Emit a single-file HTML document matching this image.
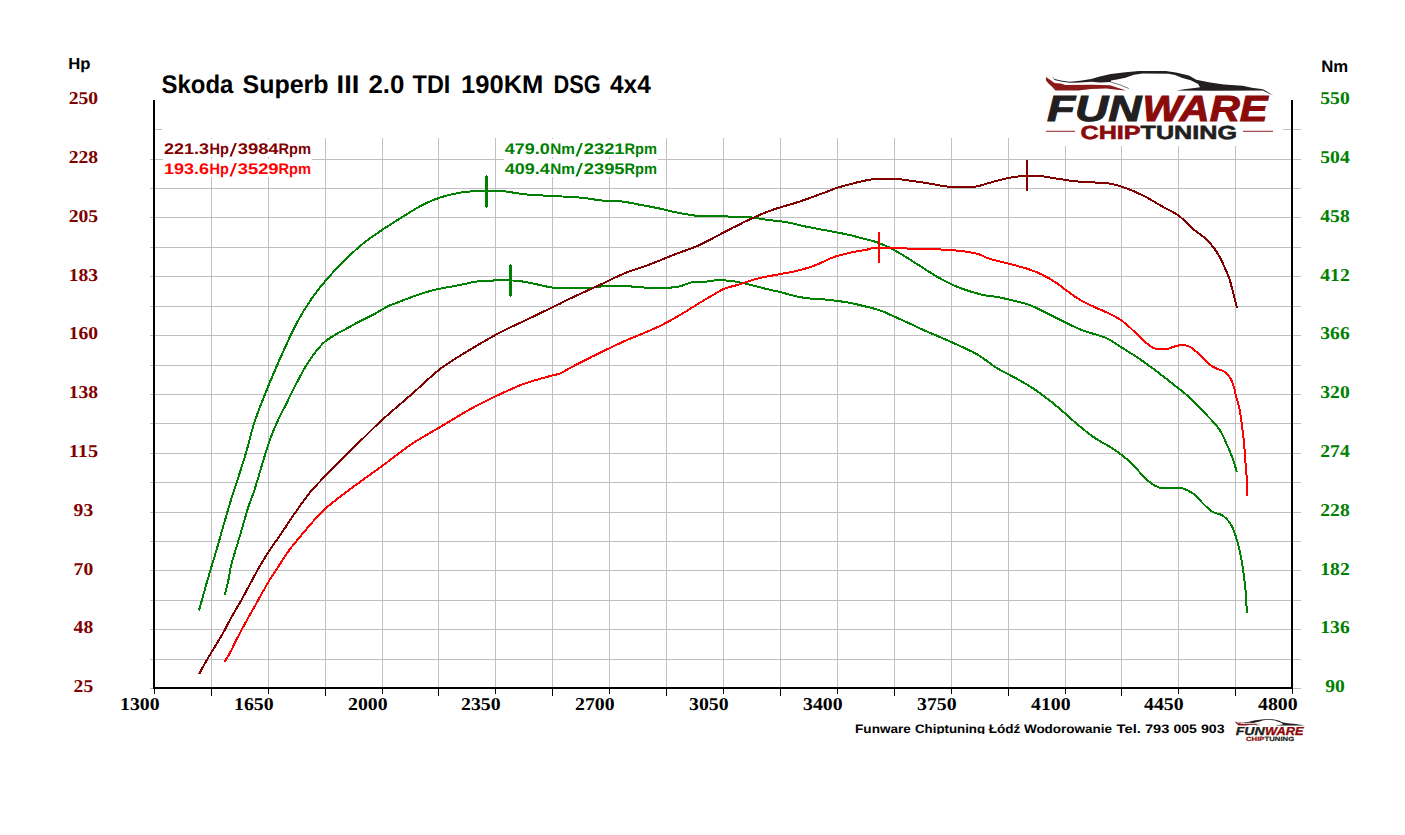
<!DOCTYPE html>
<html><head><meta charset="utf-8"><title>Dyno chart</title>
<style>
html,body{margin:0;padding:0;background:#fff}
body{width:1405px;height:835px;overflow:hidden;position:relative;font-family:"Liberation Sans",sans-serif}
svg{position:absolute;left:0;top:0;display:block}
text{text-rendering:geometricPrecision}
.ser{font-family:"Liberation Serif",serif;font-weight:bold}
.san{font-family:"Liberation Sans",sans-serif;font-weight:bold}
</style></head>
<body>
<svg width="1405" height="835" viewBox="0 0 1405 835">
<rect x="0" y="0" width="1405" height="835" fill="#ffffff"/>
<g fill="#c0c0c0" shape-rendering="crispEdges">
<rect x="211" y="138" width="1" height="549"/>
<rect x="268" y="138" width="1" height="549"/>
<rect x="325" y="138" width="1" height="549"/>
<rect x="382" y="138" width="1" height="549"/>
<rect x="438" y="138" width="1" height="549"/>
<rect x="495" y="138" width="1" height="549"/>
<rect x="552" y="138" width="1" height="549"/>
<rect x="609" y="138" width="1" height="549"/>
<rect x="666" y="138" width="1" height="549"/>
<rect x="723" y="138" width="1" height="549"/>
<rect x="780" y="138" width="1" height="549"/>
<rect x="837" y="138" width="1" height="549"/>
<rect x="894" y="138" width="1" height="549"/>
<rect x="951" y="138" width="1" height="549"/>
<rect x="1008" y="138" width="1" height="549"/>
<rect x="1065" y="138" width="1" height="549"/>
<rect x="1121" y="138" width="1" height="549"/>
<rect x="1178" y="138" width="1" height="549"/>
<rect x="1235" y="138" width="1" height="549"/>
<rect x="150" y="159" width="1151" height="1"/>
<rect x="150" y="188" width="1151" height="1"/>
<rect x="150" y="217" width="1151" height="1"/>
<rect x="150" y="247" width="1151" height="1"/>
<rect x="150" y="276" width="1151" height="1"/>
<rect x="150" y="306" width="1151" height="1"/>
<rect x="150" y="335" width="1151" height="1"/>
<rect x="150" y="365" width="1151" height="1"/>
<rect x="150" y="394" width="1151" height="1"/>
<rect x="150" y="423" width="1151" height="1"/>
<rect x="150" y="453" width="1151" height="1"/>
<rect x="150" y="482" width="1151" height="1"/>
<rect x="150" y="512" width="1151" height="1"/>
<rect x="150" y="541" width="1151" height="1"/>
<rect x="150" y="570" width="1151" height="1"/>
<rect x="150" y="600" width="1151" height="1"/>
<rect x="150" y="629" width="1151" height="1"/>
<rect x="150" y="659" width="1151" height="1"/>
<rect x="155" y="129" width="7" height="1"/>
<rect x="1283" y="129" width="18" height="1"/>
<rect x="150" y="688" width="3" height="1"/>
<rect x="1293" y="688" width="8" height="1"/>
</g>
<g fill="#ffffff" shape-rendering="crispEdges">
<rect x="163" y="139" width="149" height="18"/>
<rect x="163" y="159" width="149" height="18"/>
<rect x="504" y="139" width="154" height="18"/>
<rect x="504" y="159" width="154" height="18"/>
</g>
<g fill="#000000" shape-rendering="crispEdges">
<rect x="153" y="100" width="2" height="589"/>
<rect x="1291" y="100" width="2" height="589"/>
<rect x="153" y="687" width="1140" height="2"/>
<rect x="154" y="689" width="1" height="5"/>
<rect x="211" y="689" width="1" height="7"/>
<rect x="268" y="689" width="1" height="5"/>
<rect x="325" y="689" width="1" height="7"/>
<rect x="382" y="689" width="1" height="5"/>
<rect x="438" y="689" width="1" height="7"/>
<rect x="495" y="689" width="1" height="5"/>
<rect x="552" y="689" width="1" height="7"/>
<rect x="609" y="689" width="1" height="5"/>
<rect x="666" y="689" width="1" height="7"/>
<rect x="723" y="689" width="1" height="5"/>
<rect x="780" y="689" width="1" height="7"/>
<rect x="837" y="689" width="1" height="5"/>
<rect x="894" y="689" width="1" height="7"/>
<rect x="951" y="689" width="1" height="5"/>
<rect x="1008" y="689" width="1" height="7"/>
<rect x="1065" y="689" width="1" height="5"/>
<rect x="1121" y="689" width="1" height="7"/>
<rect x="1178" y="689" width="1" height="5"/>
<rect x="1235" y="689" width="1" height="7"/>
<rect x="1292" y="689" width="1" height="5"/>
</g>
<polyline points="199.0,610.5 199.3,609.4 200.1,606.6 201.2,602.6 202.5,598.0 203.7,593.5 204.8,589.7 205.6,586.7 206.4,583.9 207.2,581.0 208.1,578.2 208.9,575.3 209.8,572.2 211.0,568.3 212.2,564.2 213.5,560.1 214.8,555.8 216.0,551.5 217.3,547.3 218.6,543.0 219.8,538.5 221.0,534.1 222.3,529.7 223.5,525.4 224.7,521.2 225.8,517.5 226.8,513.9 227.9,510.4 228.9,506.9 229.9,503.4 231.0,500.0 232.0,496.8 233.0,493.6 234.0,490.5 235.1,487.3 236.1,484.1 237.2,480.7 238.6,476.4 240.0,472.0 241.5,467.4 243.0,462.7 244.5,458.0 245.9,453.3 247.3,448.4 248.6,443.4 249.9,438.4 251.2,433.4 252.6,428.4 254.1,423.4 255.8,418.4 257.6,413.4 259.4,408.4 261.4,403.4 263.3,398.6 265.1,393.9 266.7,389.9 268.3,386.1 269.8,382.3 271.4,378.6 273.0,374.8 274.6,371.1 276.2,367.3 277.9,363.5 279.5,359.7 281.2,356.0 282.9,352.3 284.5,348.7 286.0,345.4 287.5,342.2 288.9,339.0 290.4,335.8 291.8,332.8 293.2,330.0 294.3,327.9 295.2,325.9 296.2,324.0 297.2,322.2 298.3,320.2 299.5,318.1 301.3,315.0 303.2,311.7 305.3,308.3 307.5,304.9 309.7,301.5 311.9,298.2 314.1,295.2 316.3,292.2 318.5,289.3 320.8,286.4 323.2,283.6 325.6,280.7 328.2,277.8 330.8,274.8 333.4,272.0 336.1,269.1 338.9,266.2 341.8,263.3 345.0,260.1 348.2,256.9 351.5,253.7 354.9,250.6 358.4,247.5 361.8,244.6 365.1,241.9 368.5,239.4 372.0,236.9 375.4,234.5 378.9,232.1 382.4,229.7 386.0,227.3 389.6,225.0 393.2,222.7 396.8,220.4 400.5,218.1 404.1,215.9 407.6,213.7 411.2,211.5 414.7,209.4 418.2,207.3 421.8,205.3 425.3,203.5 428.6,202.0 431.9,200.6 435.2,199.3 438.5,198.1 441.8,197.0 445.2,196.0 448.7,195.1 452.2,194.2 455.8,193.5 459.3,192.8 462.9,192.3 466.4,191.8 469.8,191.5 473.2,191.3 476.6,191.2 480.0,191.1 483.2,191.1 486.3,191.0 488.7,190.9 490.9,190.8 493.1,190.7 495.2,190.7 497.5,190.7 500.0,190.8 503.7,191.2 507.7,191.7 511.9,192.4 516.2,193.1 520.6,193.8 524.9,194.3 529.4,194.7 533.9,195.0 538.4,195.3 543.0,195.5 547.6,195.7 552.3,196.0 557.3,196.3 562.3,196.5 567.4,196.8 572.5,197.1 577.5,197.4 582.2,197.8 586.2,198.2 590.0,198.8 593.8,199.4 597.5,199.9 601.1,200.4 604.6,200.8 607.6,201.0 610.6,201.1 613.5,201.1 616.4,201.2 619.2,201.3 622.1,201.5 625.0,201.9 627.9,202.4 630.7,202.9 633.6,203.5 636.5,204.1 639.5,204.7 642.7,205.3 646.0,205.9 649.4,206.5 652.7,207.2 656.1,207.8 659.4,208.5 662.7,209.2 666.1,210.0 669.4,210.8 672.7,211.6 676.1,212.3 679.4,213.0 682.7,213.6 685.9,214.2 689.2,214.7 692.5,215.2 695.8,215.7 699.3,216.0 703.3,216.2 707.4,216.3 711.6,216.4 715.8,216.4 720.0,216.3 724.2,216.4 728.4,216.5 732.7,216.5 736.9,216.6 741.1,216.7 745.2,216.9 749.1,217.2 752.2,217.5 755.1,217.9 758.0,218.4 760.8,218.8 763.7,219.3 766.6,219.7 769.8,220.1 773.1,220.5 776.5,220.8 779.8,221.2 783.2,221.7 786.5,222.2 789.8,222.8 793.1,223.6 796.4,224.4 799.7,225.2 803.0,226.0 806.4,226.7 810.1,227.4 813.8,228.1 817.6,228.8 821.3,229.5 825.1,230.2 828.8,230.9 832.4,231.6 836.1,232.3 839.8,233.0 843.4,233.7 846.8,234.4 850.0,235.1 852.3,235.6 854.4,236.2 856.5,236.8 858.5,237.3 860.5,237.9 862.5,238.4 864.6,238.9 866.6,239.4 868.7,239.9 870.8,240.4 872.8,241.0 874.9,241.6 877.0,242.3 879.1,243.1 881.2,243.9 883.3,244.8 885.3,245.7 887.4,246.6 889.5,247.6 891.5,248.6 893.5,249.7 895.5,250.8 897.6,252.0 899.8,253.3 902.9,255.1 906.1,257.1 909.5,259.3 913.0,261.5 916.4,263.7 919.8,265.8 923.1,267.9 926.5,270.1 929.9,272.2 933.2,274.4 936.5,276.4 939.7,278.2 942.3,279.6 944.8,281.0 947.2,282.2 949.7,283.4 952.1,284.6 954.6,285.7 957.1,286.7 959.6,287.7 962.1,288.7 964.6,289.5 967.1,290.4 969.6,291.2 972.1,292.0 974.5,292.7 977.0,293.4 979.5,294.1 982.0,294.7 984.5,295.2 987.0,295.7 989.5,296.0 992.0,296.3 994.5,296.6 997.0,297.0 999.5,297.4 1002.0,297.9 1004.5,298.5 1007.0,299.0 1009.4,299.7 1011.9,300.3 1014.4,300.9 1016.9,301.5 1019.4,302.1 1021.9,302.7 1024.4,303.3 1026.9,304.1 1029.4,304.9 1031.9,305.9 1034.4,307.0 1036.8,308.2 1039.3,309.4 1041.8,310.6 1044.3,311.9 1047.1,313.3 1050.0,314.7 1052.9,316.2 1055.8,317.6 1058.8,319.1 1061.8,320.6 1065.0,322.2 1068.2,323.8 1071.5,325.4 1074.8,327.0 1078.2,328.5 1081.7,330.0 1085.7,331.5 1090.0,332.8 1094.4,334.0 1098.7,335.3 1102.8,336.7 1106.6,338.2 1109.4,339.6 1111.9,341.1 1114.3,342.6 1116.7,344.2 1119.1,345.8 1121.6,347.4 1124.4,349.2 1127.3,351.0 1130.2,352.9 1133.2,354.7 1136.1,356.7 1139.0,358.6 1141.9,360.6 1144.8,362.6 1147.7,364.7 1150.6,366.8 1153.5,368.9 1156.4,371.1 1159.4,373.4 1162.4,375.7 1165.4,378.0 1168.3,380.4 1171.2,382.6 1173.9,384.8 1176.1,386.5 1178.2,388.1 1180.2,389.7 1182.2,391.3 1184.3,392.9 1186.3,394.7 1188.6,396.9 1191.0,399.2 1193.4,401.6 1195.7,404.0 1198.0,406.3 1200.0,408.4 1201.4,409.8 1202.6,411.0 1203.8,412.1 1205.0,413.3 1206.2,414.5 1207.5,415.9 1209.3,417.8 1211.3,419.8 1213.3,422.0 1215.3,424.2 1217.2,426.5 1219.0,428.9 1220.7,431.6 1222.2,434.4 1223.7,437.4 1225.0,440.3 1226.3,443.3 1227.6,446.1 1228.7,448.6 1229.7,451.0 1230.7,453.4 1231.7,455.8 1232.6,458.2 1233.4,460.5 1234.1,462.7 1234.9,465.3 1235.6,467.8 1236.2,469.9 1236.6,471.4 1236.8,472.0" fill="none" stroke="#008000" stroke-width="2" stroke-linejoin="round" shape-rendering="crispEdges"/>
<polyline points="224.8,595.0 225.0,594.2 225.5,592.1 226.3,589.2 227.1,585.9 227.9,582.6 228.5,579.7 228.9,577.4 229.3,575.2 229.7,573.0 230.0,570.7 230.5,568.4 231.0,566.0 231.8,562.7 232.8,559.3 233.9,555.7 235.0,552.0 236.1,548.4 237.2,544.8 238.2,541.2 239.3,537.6 240.4,534.1 241.4,530.5 242.4,527.0 243.4,523.7 244.2,521.0 244.9,518.3 245.7,515.8 246.4,513.2 247.2,510.7 248.0,508.0 249.0,505.0 250.1,502.0 251.2,499.0 252.3,495.9 253.5,492.7 254.6,489.4 255.9,485.5 257.1,481.3 258.4,477.1 259.6,472.8 260.9,468.6 262.1,464.5 263.3,460.7 264.4,456.9 265.5,453.1 266.7,449.4 267.9,445.7 269.1,442.1 270.3,438.7 271.6,435.3 272.9,432.0 274.3,428.7 275.7,425.4 277.1,422.2 278.5,419.2 279.9,416.3 281.3,413.5 282.8,410.6 284.3,407.7 285.8,404.7 287.6,401.1 289.4,397.4 291.3,393.6 293.2,389.8 295.1,386.0 297.0,382.3 298.8,378.9 300.6,375.5 302.4,372.2 304.2,368.9 306.1,365.6 308.2,362.4 310.5,359.0 312.9,355.6 315.4,352.2 318.0,348.9 320.5,346.0 323.0,343.4 324.7,341.8 326.4,340.5 328.0,339.3 329.7,338.2 331.3,337.1 333.1,336.0 335.0,334.9 336.9,333.8 338.8,332.7 340.8,331.7 342.8,330.6 344.9,329.5 347.2,328.2 349.6,326.9 352.0,325.6 354.4,324.2 356.9,322.9 359.3,321.6 361.7,320.4 364.1,319.2 366.5,318.0 368.9,316.8 371.3,315.6 373.7,314.4 376.1,313.1 378.5,311.6 381.0,310.2 383.3,308.8 385.7,307.5 388.0,306.3 389.9,305.4 391.7,304.7 393.4,304.0 395.2,303.4 397.1,302.7 399.1,301.9 402.1,300.7 405.5,299.4 409.0,298.1 412.6,296.7 416.0,295.5 419.1,294.4 421.4,293.7 423.6,293.0 425.7,292.3 427.7,291.7 429.6,291.2 431.5,290.7 432.8,290.4 434.0,290.0 435.1,289.8 436.3,289.5 437.6,289.2 439.0,288.9 441.8,288.3 444.9,287.7 448.3,287.1 451.9,286.5 455.5,285.8 458.9,285.2 462.2,284.5 465.5,283.8 468.9,283.0 472.2,282.3 475.5,281.7 478.9,281.2 482.5,280.9 486.1,280.7 489.9,280.5 493.5,280.5 496.9,280.4 500.0,280.4 502.0,280.4 503.7,280.3 505.4,280.3 507.1,280.3 508.8,280.3 510.5,280.4 512.4,280.5 514.3,280.6 516.3,280.8 518.2,281.0 520.3,281.2 522.4,281.5 525.2,282.0 528.1,282.5 531.1,283.1 534.1,283.8 537.1,284.4 539.9,285.0 542.2,285.5 544.3,286.0 546.4,286.5 548.6,287.0 550.9,287.4 553.6,287.7 559.1,288.1 565.8,288.2 573.0,288.3 580.2,288.2 586.8,288.0 592.2,287.7 594.6,287.5 596.7,287.2 598.6,286.9 600.4,286.6 602.4,286.4 604.6,286.2 608.5,286.0 613.0,285.9 617.7,285.9 622.3,285.9 626.4,286.0 629.5,286.2 630.5,286.3 631.3,286.4 631.9,286.6 632.6,286.7 633.4,286.9 634.5,287.0 639.4,287.3 646.3,287.6 654.4,287.8 662.8,287.8 670.5,287.6 676.9,287.0 680.1,286.3 682.9,285.4 685.6,284.4 688.1,283.5 690.6,282.6 693.1,282.0 695.5,281.7 698.0,281.6 700.4,281.6 702.8,281.6 704.9,281.6 706.8,281.5 707.7,281.4 708.5,281.2 709.3,281.1 710.0,280.9 710.8,280.8 711.8,280.7 714.1,280.5 716.8,280.4 719.8,280.4 722.9,280.4 726.1,280.5 729.2,280.7 732.5,281.1 735.8,281.6 739.2,282.3 742.5,283.0 745.9,283.8 749.1,284.5 752.1,285.2 755.1,286.0 758.0,286.7 760.9,287.5 763.8,288.3 766.6,289.0 769.1,289.6 771.7,290.2 774.1,290.7 776.6,291.3 779.0,291.8 781.5,292.4 784.0,293.1 786.5,293.8 789.0,294.5 791.5,295.2 794.0,295.8 796.5,296.4 799.0,296.9 801.5,297.3 804.0,297.8 806.5,298.1 809.0,298.4 811.4,298.7 813.5,298.9 815.5,299.0 817.4,299.0 819.4,299.1 821.6,299.2 823.9,299.4 827.8,299.8 832.2,300.3 836.8,300.9 841.5,301.5 846.0,302.2 850.0,302.9 852.8,303.4 855.3,304.0 857.8,304.6 860.2,305.2 862.6,305.8 865.0,306.4 867.5,307.0 870.0,307.6 872.5,308.2 875.0,308.9 877.4,309.6 879.9,310.4 882.4,311.3 884.9,312.3 887.4,313.4 889.8,314.6 892.3,315.7 894.8,316.8 897.3,317.9 899.8,319.0 902.3,320.2 904.8,321.3 907.3,322.5 909.8,323.6 912.2,324.7 914.6,325.8 917.0,326.9 919.4,328.1 922.0,329.3 924.7,330.5 928.8,332.3 933.3,334.2 938.0,336.2 942.8,338.3 947.5,340.3 952.1,342.4 956.4,344.3 960.7,346.3 964.9,348.2 969.1,350.2 973.2,352.2 977.1,354.4 980.7,356.6 984.1,359.0 987.5,361.4 990.8,363.9 994.0,366.1 997.0,368.1 999.2,369.4 1001.2,370.5 1003.2,371.5 1005.1,372.6 1007.2,373.6 1009.4,374.8 1012.5,376.5 1015.9,378.3 1019.4,380.2 1022.9,382.2 1026.3,384.1 1029.4,386.0 1031.9,387.6 1034.2,389.1 1036.4,390.6 1038.6,392.2 1040.8,393.8 1043.1,395.5 1045.7,397.5 1048.4,399.5 1051.1,401.6 1053.8,403.8 1056.5,406.1 1059.3,408.4 1062.5,411.2 1065.9,414.1 1069.2,417.2 1072.6,420.2 1076.0,423.2 1079.2,425.9 1081.9,428.1 1084.6,430.3 1087.3,432.4 1089.9,434.4 1092.6,436.4 1095.4,438.3 1098.4,440.2 1101.5,442.1 1104.7,443.9 1107.9,445.7 1111.0,447.5 1114.1,449.5 1117.1,451.6 1120.1,453.8 1123.0,456.0 1125.9,458.4 1128.8,460.7 1131.5,463.2 1134.1,465.8 1136.6,468.7 1139.1,471.6 1141.5,474.4 1144.0,477.1 1146.5,479.4 1148.7,481.2 1150.8,482.9 1153.0,484.4 1155.2,485.8 1157.6,486.9 1160.1,487.8 1163.2,488.3 1166.6,488.3 1170.2,488.0 1173.7,487.6 1177.1,487.5 1180.2,487.8 1182.6,488.4 1184.8,489.2 1187.0,490.1 1189.1,491.1 1191.1,492.3 1193.1,493.6 1195.2,495.2 1197.2,497.1 1199.1,499.2 1200.9,501.3 1202.8,503.3 1204.6,505.1 1206.1,506.5 1207.5,507.8 1208.9,509.1 1210.4,510.3 1211.8,511.4 1213.3,512.3 1214.7,512.9 1216.2,513.3 1217.6,513.6 1219.1,514.0 1220.5,514.4 1221.9,515.1 1223.5,516.2 1225.0,517.4 1226.5,518.8 1227.9,520.4 1229.3,522.1 1230.5,523.8 1231.7,525.9 1232.8,528.1 1233.8,530.5 1234.6,533.0 1235.5,535.6 1236.3,538.1 1237.1,540.9 1237.9,543.7 1238.7,546.6 1239.4,549.6 1240.0,552.5 1240.6,555.4 1241.2,558.3 1241.7,561.1 1242.1,564.0 1242.6,566.9 1243.0,569.7 1243.4,572.6 1243.8,575.4 1244.2,578.3 1244.5,581.1 1244.9,583.9 1245.2,586.9 1245.5,589.9 1245.8,594.1 1246.2,599.0 1246.4,604.1 1246.7,608.5 1246.8,611.7 1246.9,612.9" fill="none" stroke="#008000" stroke-width="2" stroke-linejoin="round" shape-rendering="crispEdges"/>
<polyline points="199.3,674.0 199.5,673.6 200.1,672.5 200.8,670.9 201.8,669.2 202.7,667.3 203.6,665.7 204.5,664.0 205.5,662.3 206.5,660.6 207.5,658.9 208.6,657.0 209.8,655.0 211.6,652.0 213.7,648.6 215.8,645.1 218.0,641.5 220.2,638.0 222.2,634.5 224.0,631.3 225.7,628.1 227.3,625.0 229.0,621.8 230.6,618.8 232.2,615.8 233.7,613.2 235.2,610.7 236.6,608.2 238.1,605.8 239.5,603.3 240.9,600.9 242.2,598.6 243.4,596.3 244.7,594.1 245.9,591.8 247.1,589.5 248.4,587.2 249.8,584.6 251.2,581.9 252.6,579.2 254.1,576.5 255.6,573.8 257.1,571.0 258.8,567.9 260.6,564.9 262.5,561.7 264.4,558.6 266.3,555.4 268.3,552.3 270.5,549.0 272.7,545.7 275.1,542.3 277.4,539.0 279.7,535.7 282.0,532.4 284.1,529.3 286.2,526.2 288.2,523.1 290.2,520.0 292.3,516.8 294.5,513.7 296.9,510.3 299.4,506.7 301.9,503.2 304.4,499.7 306.9,496.3 309.4,493.2 311.5,490.7 313.5,488.4 315.5,486.2 317.5,484.1 319.7,481.8 321.9,479.5 324.8,476.5 327.8,473.5 330.9,470.4 334.1,467.2 337.4,464.0 340.6,460.8 344.1,457.3 347.6,453.8 351.1,450.2 354.7,446.7 358.3,443.1 361.8,439.6 365.2,436.3 368.5,433.0 371.8,429.7 375.2,426.4 378.7,423.1 382.4,419.7 387.0,415.6 391.8,411.4 396.7,407.1 401.7,402.8 406.7,398.5 411.6,394.3 416.3,390.1 421.1,385.7 425.9,381.3 430.5,377.1 434.9,373.3 439.0,369.9 441.5,368.0 443.7,366.4 445.9,364.9 448.0,363.4 450.3,362.0 452.7,360.4 455.9,358.3 459.3,356.2 462.8,354.0 466.5,351.8 470.2,349.6 473.9,347.4 478.1,344.9 482.4,342.4 486.8,339.8 491.2,337.3 495.6,334.8 500.0,332.5 504.1,330.4 508.3,328.4 512.4,326.4 516.5,324.5 520.7,322.6 524.9,320.6 529.4,318.4 534.0,316.2 538.7,314.0 543.3,311.7 547.9,309.5 552.3,307.4 556.2,305.5 559.9,303.7 563.6,301.8 567.2,300.0 570.9,298.2 574.7,296.4 578.8,294.5 582.9,292.6 587.1,290.7 591.3,288.8 595.5,286.9 599.7,285.0 603.9,283.0 608.0,281.0 612.1,279.0 616.3,277.0 620.4,275.1 624.6,273.3 628.7,271.7 632.9,270.2 637.0,268.8 641.2,267.4 645.4,266.0 649.5,264.5 653.7,262.9 657.8,261.3 662.0,259.6 666.1,257.9 670.2,256.2 674.4,254.6 678.6,253.0 682.7,251.5 686.9,250.0 691.0,248.5 695.2,246.9 699.3,245.1 703.5,243.1 707.6,241.0 711.8,238.8 715.9,236.6 720.1,234.4 724.2,232.2 728.4,230.1 732.5,227.9 736.7,225.8 740.9,223.7 745.0,221.6 749.1,219.7 752.9,218.0 756.5,216.3 760.2,214.7 763.9,213.2 767.6,211.7 771.5,210.2 775.9,208.7 780.4,207.3 785.1,205.9 789.8,204.6 794.4,203.2 798.9,201.8 803.2,200.3 807.6,198.8 811.9,197.2 816.1,195.7 820.1,194.2 823.9,192.8 826.6,191.8 829.2,190.8 831.7,189.8 834.1,188.9 836.5,188.1 838.8,187.3 840.7,186.7 842.6,186.2 844.4,185.7 846.3,185.2 848.1,184.8 850.0,184.3 852.0,183.8 854.1,183.2 856.1,182.6 858.2,182.1 860.3,181.6 862.5,181.1 864.9,180.6 867.3,180.2 869.8,179.7 872.3,179.4 874.8,179.0 877.4,178.8 880.2,178.6 883.1,178.5 886.1,178.5 889.0,178.6 892.0,178.7 894.8,178.8 897.3,179.0 899.8,179.2 902.2,179.5 904.7,179.9 907.2,180.2 909.8,180.6 913.0,181.0 916.2,181.5 919.6,182.0 923.0,182.5 926.3,183.1 929.7,183.6 933.0,184.2 936.3,184.8 939.6,185.4 942.9,186.0 946.2,186.4 949.7,186.8 953.8,187.1 958.0,187.3 962.4,187.4 966.7,187.4 970.8,187.2 974.6,186.8 977.3,186.3 979.8,185.7 982.2,185.0 984.5,184.3 986.9,183.5 989.5,182.8 992.7,182.0 996.0,181.0 999.4,180.1 1002.9,179.3 1006.2,178.5 1009.4,177.8 1012.0,177.3 1014.5,177.0 1017.0,176.6 1019.5,176.4 1021.9,176.2 1024.4,176.0 1026.9,175.9 1029.3,175.8 1031.8,175.7 1034.3,175.8 1036.8,175.8 1039.3,176.0 1042.1,176.3 1045.0,176.7 1048.0,177.1 1050.9,177.6 1053.9,178.1 1056.8,178.6 1059.7,179.0 1062.6,179.5 1065.6,179.9 1068.5,180.4 1071.4,180.8 1074.2,181.1 1076.7,181.4 1079.2,181.6 1081.7,181.8 1084.2,182.0 1086.6,182.1 1089.2,182.3 1092.0,182.4 1095.0,182.5 1097.9,182.5 1100.9,182.6 1103.8,182.8 1106.6,183.1 1109.1,183.5 1111.6,183.9 1114.0,184.5 1116.5,185.1 1119.0,185.8 1121.6,186.6 1125.1,187.8 1128.9,189.3 1132.8,190.8 1136.6,192.5 1140.4,194.3 1144.0,196.0 1147.1,197.6 1150.0,199.2 1152.9,200.9 1155.7,202.6 1158.5,204.3 1161.4,206.0 1164.3,207.6 1167.3,209.2 1170.3,210.7 1173.3,212.3 1176.2,214.0 1178.9,215.9 1181.4,217.9 1183.8,220.1 1186.1,222.3 1188.4,224.6 1190.7,226.9 1193.1,229.0 1195.5,231.0 1198.0,232.8 1200.5,234.7 1203.0,236.5 1205.3,238.5 1207.5,240.5 1209.4,242.5 1211.2,244.6 1212.9,246.7 1214.6,248.9 1216.1,251.1 1217.6,253.4 1219.0,255.7 1220.3,258.2 1221.5,260.6 1222.7,263.1 1223.8,265.5 1224.8,267.8 1225.6,269.5 1226.4,271.2 1227.1,272.8 1227.8,274.4 1228.4,276.1 1229.1,277.9 1229.9,280.3 1230.6,282.9 1231.3,285.6 1232.0,288.3 1232.7,291.1 1233.4,293.7 1234.1,296.5 1234.9,299.6 1235.7,302.7 1236.4,305.5 1236.9,307.4 1237.1,308.1" fill="none" stroke="#800000" stroke-width="2" stroke-linejoin="round" shape-rendering="crispEdges"/>
<polyline points="224.7,661.8 224.9,661.4 225.6,660.3 226.5,658.7 227.6,656.9 228.7,655.0 229.7,653.2 230.9,651.0 232.1,648.6 233.3,646.1 234.6,643.5 235.9,640.9 237.2,638.3 238.8,635.3 240.4,632.2 242.1,629.0 243.8,625.9 245.5,622.7 247.2,619.6 248.8,616.7 250.5,613.8 252.1,610.9 253.8,608.0 255.4,605.1 257.1,602.1 258.9,598.8 260.8,595.5 262.6,592.1 264.5,588.8 266.4,585.4 268.3,582.2 270.1,579.2 272.0,576.2 273.9,573.3 275.8,570.4 277.7,567.6 279.5,564.8 281.2,562.2 282.8,559.6 284.5,557.1 286.1,554.6 287.8,552.2 289.5,549.8 291.1,547.7 292.7,545.6 294.3,543.6 296.0,541.6 297.7,539.6 299.5,537.4 301.8,534.6 304.3,531.6 306.9,528.5 309.5,525.5 312.0,522.6 314.4,519.9 316.1,518.0 317.7,516.2 319.3,514.5 320.9,512.9 322.6,511.2 324.4,509.5 326.8,507.4 329.4,505.2 332.1,503.0 334.8,500.9 337.7,498.6 340.6,496.4 344.0,493.8 347.4,491.2 351.0,488.6 354.6,485.9 358.2,483.3 361.8,480.7 365.2,478.2 368.6,475.8 371.9,473.4 375.3,471.0 378.8,468.4 382.4,465.8 387.0,462.4 391.8,458.7 396.7,454.9 401.7,451.2 406.7,447.5 411.6,444.1 416.1,441.2 420.6,438.4 425.1,435.8 429.6,433.2 434.2,430.5 439.0,427.7 444.6,424.3 450.5,420.8 456.5,417.2 462.4,413.7 468.3,410.3 473.9,407.2 478.4,404.8 482.8,402.5 487.2,400.3 491.4,398.2 495.7,396.2 500.0,394.2 504.1,392.3 508.3,390.4 512.4,388.6 516.5,386.8 520.7,385.1 524.9,383.5 529.6,381.9 534.5,380.4 539.6,379.0 544.4,377.6 548.7,376.5 552.3,375.5 553.8,375.1 555.1,374.8 556.2,374.6 557.3,374.3 558.5,374.0 559.8,373.5 562.0,372.5 564.3,371.3 566.8,369.9 569.4,368.4 572.0,366.9 574.7,365.5 577.9,363.8 581.2,362.1 584.7,360.3 588.1,358.6 591.5,356.9 594.7,355.3 597.3,354.0 599.8,352.8 602.3,351.6 604.7,350.4 607.1,349.3 609.6,348.1 612.1,346.9 614.6,345.7 617.1,344.5 619.6,343.4 622.1,342.2 624.6,341.1 627.1,340.0 629.5,339.0 631.9,338.0 634.4,337.0 636.9,336.0 639.5,334.9 642.7,333.6 645.9,332.2 649.3,330.8 652.7,329.3 656.1,327.8 659.4,326.2 662.8,324.5 666.2,322.7 669.6,320.9 673.0,319.0 676.3,317.2 679.4,315.4 682.1,313.8 684.7,312.2 687.2,310.7 689.6,309.1 692.0,307.6 694.3,306.2 696.1,305.1 697.8,304.0 699.4,303.0 701.0,302.0 702.7,301.0 704.3,300.0 705.9,299.0 707.6,298.1 709.2,297.2 710.9,296.3 712.5,295.3 714.2,294.4 715.8,293.4 717.4,292.4 719.0,291.4 720.7,290.5 722.4,289.5 724.2,288.7 726.5,287.9 728.9,287.1 731.5,286.5 734.1,285.9 736.7,285.2 739.2,284.5 741.7,283.7 744.1,282.8 746.5,282.0 749.0,281.1 751.5,280.3 754.1,279.5 757.2,278.7 760.5,277.9 763.8,277.2 767.2,276.5 770.6,275.9 774.0,275.2 777.3,274.6 780.7,274.0 784.0,273.4 787.3,272.9 790.7,272.2 794.0,271.5 797.3,270.7 800.7,269.8 804.0,268.9 807.3,268.0 810.6,266.9 813.9,265.8 817.3,264.5 820.6,263.0 824.0,261.4 827.3,259.8 830.6,258.3 833.8,257.1 836.6,256.2 839.5,255.4 842.3,254.6 845.1,254.0 847.6,253.4 850.0,252.8 851.5,252.4 852.9,252.1 854.2,251.9 855.4,251.6 856.7,251.3 858.0,251.1 859.3,250.9 860.7,250.7 862.0,250.5 863.4,250.3 864.7,250.1 866.0,249.9 867.2,249.6 868.3,249.3 869.3,249.0 870.4,248.7 871.7,248.4 873.0,248.2 875.4,248.0 878.1,247.9 881.1,247.9 884.1,247.9 887.1,248.0 890.0,248.0 892.7,248.0 895.5,247.9 898.2,247.8 900.8,247.8 903.1,247.8 905.0,248.0 905.7,248.1 906.2,248.3 906.7,248.5 907.2,248.7 907.8,248.9 908.5,249.0 911.0,249.2 914.3,249.3 918.1,249.3 922.1,249.3 926.2,249.3 930.0,249.3 933.7,249.4 937.3,249.4 941.0,249.5 944.6,249.6 948.3,249.8 952.1,250.1 956.3,250.5 960.7,251.0 965.1,251.5 969.4,252.2 973.4,252.9 977.1,253.8 979.4,254.5 981.5,255.4 983.4,256.2 985.3,257.1 987.3,258.0 989.5,258.8 992.5,259.7 995.8,260.5 999.1,261.3 1002.6,262.1 1006.0,262.9 1009.4,263.8 1012.8,264.7 1016.3,265.6 1019.7,266.6 1023.1,267.5 1026.4,268.5 1029.4,269.5 1031.6,270.3 1033.7,271.0 1035.8,271.8 1037.7,272.6 1039.7,273.5 1041.8,274.5 1044.3,275.8 1046.9,277.2 1049.5,278.6 1052.0,280.2 1054.5,281.7 1056.8,283.2 1058.6,284.4 1060.2,285.7 1061.8,286.9 1063.4,288.2 1065.0,289.4 1066.7,290.7 1068.7,292.1 1070.7,293.6 1072.7,295.1 1074.8,296.6 1077.0,298.0 1079.2,299.4 1081.6,300.8 1084.0,302.0 1086.5,303.3 1089.0,304.5 1091.6,305.7 1094.1,306.9 1096.6,308.0 1099.1,309.2 1101.7,310.2 1104.2,311.3 1106.7,312.4 1109.1,313.6 1111.3,314.7 1113.5,315.8 1115.6,316.9 1117.6,318.1 1119.7,319.3 1121.6,320.6 1123.4,321.9 1125.1,323.3 1126.7,324.7 1128.3,326.1 1129.9,327.5 1131.5,329.0 1133.1,330.5 1134.8,332.0 1136.4,333.6 1138.0,335.2 1139.6,336.6 1141.0,338.0 1142.0,339.0 1142.9,339.9 1143.7,340.7 1144.6,341.6 1145.5,342.4 1146.5,343.2 1147.8,344.2 1149.2,345.3 1150.7,346.3 1152.2,347.3 1153.8,348.1 1155.5,348.7 1157.4,349.1 1159.5,349.3 1161.7,349.3 1163.9,349.2 1166.0,349.0 1168.0,348.7 1169.6,348.3 1171.0,347.8 1172.4,347.2 1173.9,346.7 1175.3,346.2 1176.8,345.8 1178.5,345.5 1180.3,345.3 1182.2,345.2 1184.0,345.2 1185.8,345.4 1187.5,345.8 1189.2,346.5 1190.9,347.4 1192.5,348.6 1194.1,349.9 1195.7,351.2 1197.4,352.6 1199.5,354.5 1201.8,356.7 1204.0,359.0 1206.2,361.3 1208.4,363.3 1210.4,365.0 1211.7,365.9 1212.9,366.6 1214.1,367.3 1215.2,367.9 1216.4,368.4 1217.6,369.0 1218.8,369.5 1220.1,369.9 1221.3,370.3 1222.5,370.7 1223.7,371.2 1224.8,371.9 1225.9,372.8 1226.9,373.8 1227.9,374.9 1228.8,376.0 1229.7,377.3 1230.5,378.5 1231.2,379.8 1231.9,381.2 1232.5,382.7 1233.0,384.2 1233.5,385.7 1234.0,387.1 1234.4,388.4 1234.7,389.7 1234.9,391.0 1235.2,392.2 1235.5,393.6 1235.8,395.0 1236.3,396.9 1236.8,398.8 1237.4,400.8 1238.0,402.9 1238.6,405.1 1239.1,407.3 1239.7,410.2 1240.2,413.2 1240.7,416.4 1241.1,419.6 1241.6,422.8 1242.0,426.0 1242.4,429.3 1242.9,432.6 1243.3,436.0 1243.6,439.4 1244.0,442.7 1244.3,446.1 1244.6,449.5 1244.8,453.0 1245.1,456.4 1245.3,459.8 1245.5,463.1 1245.7,466.3 1245.9,468.8 1246.1,471.2 1246.4,473.6 1246.6,475.9 1246.8,478.2 1246.9,480.6 1247.0,483.6 1247.1,487.0 1247.1,490.4 1247.2,493.4 1247.2,495.6 1247.2,496.4" fill="none" stroke="#ff0000" stroke-width="2" stroke-linejoin="round" shape-rendering="crispEdges"/>
<g shape-rendering="crispEdges">
<rect x="485" y="176" width="3" height="31" fill="#008000"/><rect x="486" y="175" width="1" height="33" fill="#008000"/>
<rect x="509" y="265" width="3" height="31" fill="#008000"/><rect x="510" y="264" width="1" height="33" fill="#008000"/>
<rect x="1026" y="160" width="2" height="31" fill="#800000"/>
<rect x="878" y="232" width="2" height="31" fill="#ff0000"/>
</g>
<text x="161.5" y="92.5" class="san" font-size="25.5" fill="#000" text-anchor="start" textLength="71.8" lengthAdjust="spacingAndGlyphs">Skoda</text>
<text x="242.5" y="92.5" class="san" font-size="25.5" fill="#000" text-anchor="start" textLength="86.1" lengthAdjust="spacingAndGlyphs">Superb</text>
<text x="336.6" y="92.5" class="san" font-size="25.5" fill="#000" text-anchor="start" textLength="22.8" lengthAdjust="spacingAndGlyphs">III</text>
<text x="368.4" y="92.5" class="san" font-size="25.5" fill="#000" text-anchor="start" textLength="36.0" lengthAdjust="spacingAndGlyphs">2.0</text>
<text x="412.6" y="92.5" class="san" font-size="25.5" fill="#000" text-anchor="start" textLength="37.7" lengthAdjust="spacingAndGlyphs">TDI</text>
<text x="461.0" y="92.5" class="san" font-size="25.5" fill="#000" text-anchor="start" textLength="82.4" lengthAdjust="spacingAndGlyphs">190KM</text>
<text x="553.6" y="92.5" class="san" font-size="25.5" fill="#000" text-anchor="start" textLength="47.2" lengthAdjust="spacingAndGlyphs">DSG</text>
<text x="610.0" y="92.5" class="san" font-size="25.5" fill="#000" text-anchor="start" textLength="40.7" lengthAdjust="spacingAndGlyphs">4x4</text>
<text x="68.3" y="68.7" class="san" font-size="16.0" fill="#000" text-anchor="start" textLength="22.2" lengthAdjust="spacingAndGlyphs">Hp</text>
<text x="1321.2" y="71.8" class="san" font-size="16.6" fill="#000" text-anchor="start" textLength="27.0" lengthAdjust="spacingAndGlyphs">Nm</text>
<text x="68.7" y="104.1" class="ser" font-size="18.1" fill="#800000" text-anchor="start" textLength="29.4" lengthAdjust="spacingAndGlyphs" style="text-rendering:geometricPrecision">250</text>
<text x="1320.3" y="104.1" class="ser" font-size="18.1" fill="#008000" text-anchor="start" textLength="29.4" lengthAdjust="spacingAndGlyphs" style="text-rendering:geometricPrecision">550</text>
<text x="68.7" y="162.9" class="ser" font-size="18.1" fill="#800000" text-anchor="start" textLength="29.4" lengthAdjust="spacingAndGlyphs" style="text-rendering:geometricPrecision">228</text>
<text x="1320.3" y="162.9" class="ser" font-size="18.1" fill="#008000" text-anchor="start" textLength="29.4" lengthAdjust="spacingAndGlyphs" style="text-rendering:geometricPrecision">504</text>
<text x="68.7" y="221.7" class="ser" font-size="18.1" fill="#800000" text-anchor="start" textLength="29.4" lengthAdjust="spacingAndGlyphs" style="text-rendering:geometricPrecision">205</text>
<text x="1320.3" y="221.7" class="ser" font-size="18.1" fill="#008000" text-anchor="start" textLength="29.4" lengthAdjust="spacingAndGlyphs" style="text-rendering:geometricPrecision">458</text>
<text x="68.7" y="280.5" class="ser" font-size="18.1" fill="#800000" text-anchor="start" textLength="29.4" lengthAdjust="spacingAndGlyphs" style="text-rendering:geometricPrecision">183</text>
<text x="1320.3" y="280.5" class="ser" font-size="18.1" fill="#008000" text-anchor="start" textLength="29.4" lengthAdjust="spacingAndGlyphs" style="text-rendering:geometricPrecision">412</text>
<text x="68.7" y="339.3" class="ser" font-size="18.1" fill="#800000" text-anchor="start" textLength="29.4" lengthAdjust="spacingAndGlyphs" style="text-rendering:geometricPrecision">160</text>
<text x="1320.3" y="339.3" class="ser" font-size="18.1" fill="#008000" text-anchor="start" textLength="29.4" lengthAdjust="spacingAndGlyphs" style="text-rendering:geometricPrecision">366</text>
<text x="68.7" y="398.1" class="ser" font-size="18.1" fill="#800000" text-anchor="start" textLength="29.4" lengthAdjust="spacingAndGlyphs" style="text-rendering:geometricPrecision">138</text>
<text x="1320.3" y="398.1" class="ser" font-size="18.1" fill="#008000" text-anchor="start" textLength="29.4" lengthAdjust="spacingAndGlyphs" style="text-rendering:geometricPrecision">320</text>
<text x="68.7" y="456.9" class="ser" font-size="18.1" fill="#800000" text-anchor="start" textLength="29.4" lengthAdjust="spacingAndGlyphs" style="text-rendering:geometricPrecision">115</text>
<text x="1320.3" y="456.9" class="ser" font-size="18.1" fill="#008000" text-anchor="start" textLength="29.4" lengthAdjust="spacingAndGlyphs" style="text-rendering:geometricPrecision">274</text>
<text x="73.6" y="515.7" class="ser" font-size="18.1" fill="#800000" text-anchor="start" textLength="19.6" lengthAdjust="spacingAndGlyphs" style="text-rendering:geometricPrecision">93</text>
<text x="1320.3" y="515.7" class="ser" font-size="18.1" fill="#008000" text-anchor="start" textLength="29.4" lengthAdjust="spacingAndGlyphs" style="text-rendering:geometricPrecision">228</text>
<text x="73.6" y="574.5" class="ser" font-size="18.1" fill="#800000" text-anchor="start" textLength="19.6" lengthAdjust="spacingAndGlyphs" style="text-rendering:geometricPrecision">70</text>
<text x="1320.3" y="574.5" class="ser" font-size="18.1" fill="#008000" text-anchor="start" textLength="29.4" lengthAdjust="spacingAndGlyphs" style="text-rendering:geometricPrecision">182</text>
<text x="73.6" y="633.3" class="ser" font-size="18.1" fill="#800000" text-anchor="start" textLength="19.6" lengthAdjust="spacingAndGlyphs" style="text-rendering:geometricPrecision">48</text>
<text x="1320.3" y="633.3" class="ser" font-size="18.1" fill="#008000" text-anchor="start" textLength="29.4" lengthAdjust="spacingAndGlyphs" style="text-rendering:geometricPrecision">136</text>
<text x="73.6" y="692.1" class="ser" font-size="18.1" fill="#800000" text-anchor="start" textLength="19.6" lengthAdjust="spacingAndGlyphs" style="text-rendering:geometricPrecision">25</text>
<text x="1325.2" y="692.1" class="ser" font-size="18.1" fill="#008000" text-anchor="start" textLength="19.6" lengthAdjust="spacingAndGlyphs" style="text-rendering:geometricPrecision">90</text>
<text x="120.0" y="710.0" class="ser" font-size="18.1" fill="#000" text-anchor="start" textLength="39.5" lengthAdjust="spacingAndGlyphs" style="text-rendering:geometricPrecision">1300</text>
<text x="234.0" y="710.0" class="ser" font-size="18.1" fill="#000" text-anchor="start" textLength="39.5" lengthAdjust="spacingAndGlyphs" style="text-rendering:geometricPrecision">1650</text>
<text x="348.0" y="710.0" class="ser" font-size="18.1" fill="#000" text-anchor="start" textLength="39.5" lengthAdjust="spacingAndGlyphs" style="text-rendering:geometricPrecision">2000</text>
<text x="461.0" y="710.0" class="ser" font-size="18.1" fill="#000" text-anchor="start" textLength="39.5" lengthAdjust="spacingAndGlyphs" style="text-rendering:geometricPrecision">2350</text>
<text x="575.0" y="710.0" class="ser" font-size="18.1" fill="#000" text-anchor="start" textLength="39.5" lengthAdjust="spacingAndGlyphs" style="text-rendering:geometricPrecision">2700</text>
<text x="689.0" y="710.0" class="ser" font-size="18.1" fill="#000" text-anchor="start" textLength="39.5" lengthAdjust="spacingAndGlyphs" style="text-rendering:geometricPrecision">3050</text>
<text x="803.0" y="710.0" class="ser" font-size="18.1" fill="#000" text-anchor="start" textLength="39.5" lengthAdjust="spacingAndGlyphs" style="text-rendering:geometricPrecision">3400</text>
<text x="917.0" y="710.0" class="ser" font-size="18.1" fill="#000" text-anchor="start" textLength="39.5" lengthAdjust="spacingAndGlyphs" style="text-rendering:geometricPrecision">3750</text>
<text x="1031.0" y="710.0" class="ser" font-size="18.1" fill="#000" text-anchor="start" textLength="39.5" lengthAdjust="spacingAndGlyphs" style="text-rendering:geometricPrecision">4100</text>
<text x="1144.0" y="710.0" class="ser" font-size="18.1" fill="#000" text-anchor="start" textLength="39.5" lengthAdjust="spacingAndGlyphs" style="text-rendering:geometricPrecision">4450</text>
<text x="1258.0" y="710.0" class="ser" font-size="18.1" fill="#000" text-anchor="start" textLength="39.5" lengthAdjust="spacingAndGlyphs" style="text-rendering:geometricPrecision">4800</text>
<text x="164.1" y="154.0" class="san" font-size="15.4" fill="#800000" text-anchor="start" textLength="45.0" lengthAdjust="spacingAndGlyphs">221.3</text>
<text x="209.5" y="154.0" class="san" font-size="15.4" fill="#800000" text-anchor="start" textLength="19.4" lengthAdjust="spacingAndGlyphs">Hp</text>
<polygon points="234.8,143.0 236.9,143.0 231.6,156.4 229.5,156.4" fill="#800000"/>
<text x="237.7" y="154.0" class="san" font-size="15.4" fill="#800000" text-anchor="start" textLength="40.9" lengthAdjust="spacingAndGlyphs">3984</text>
<text x="278.4" y="154.0" class="san" font-size="15.4" fill="#800000" text-anchor="start" textLength="32.5" lengthAdjust="spacingAndGlyphs">Rpm</text>
<text x="164.1" y="174.0" class="san" font-size="15.4" fill="#ff0000" text-anchor="start" textLength="45.0" lengthAdjust="spacingAndGlyphs">193.6</text>
<text x="209.5" y="174.0" class="san" font-size="15.4" fill="#ff0000" text-anchor="start" textLength="19.4" lengthAdjust="spacingAndGlyphs">Hp</text>
<polygon points="234.8,163.0 236.9,163.0 231.6,176.4 229.5,176.4" fill="#ff0000"/>
<text x="237.7" y="174.0" class="san" font-size="15.4" fill="#ff0000" text-anchor="start" textLength="40.9" lengthAdjust="spacingAndGlyphs">3529</text>
<text x="278.4" y="174.0" class="san" font-size="15.4" fill="#ff0000" text-anchor="start" textLength="32.5" lengthAdjust="spacingAndGlyphs">Rpm</text>
<text x="504.8" y="154.0" class="san" font-size="15.4" fill="#008000" text-anchor="start" textLength="45.0" lengthAdjust="spacingAndGlyphs">479.0</text>
<text x="550.2" y="154.0" class="san" font-size="15.4" fill="#008000" text-anchor="start" textLength="24.7" lengthAdjust="spacingAndGlyphs">Nm</text>
<polygon points="580.8,143.0 582.9,143.0 577.6,156.4 575.5,156.4" fill="#008000"/>
<text x="583.7" y="154.0" class="san" font-size="15.4" fill="#008000" text-anchor="start" textLength="40.9" lengthAdjust="spacingAndGlyphs">2321</text>
<text x="624.4" y="154.0" class="san" font-size="15.4" fill="#008000" text-anchor="start" textLength="32.5" lengthAdjust="spacingAndGlyphs">Rpm</text>
<text x="504.8" y="174.0" class="san" font-size="15.4" fill="#008000" text-anchor="start" textLength="45.0" lengthAdjust="spacingAndGlyphs">409.4</text>
<text x="550.2" y="174.0" class="san" font-size="15.4" fill="#008000" text-anchor="start" textLength="24.7" lengthAdjust="spacingAndGlyphs">Nm</text>
<polygon points="580.8,163.0 582.9,163.0 577.6,176.4 575.5,176.4" fill="#008000"/>
<text x="583.7" y="174.0" class="san" font-size="15.4" fill="#008000" text-anchor="start" textLength="40.9" lengthAdjust="spacingAndGlyphs">2395</text>
<text x="624.4" y="174.0" class="san" font-size="15.4" fill="#008000" text-anchor="start" textLength="32.5" lengthAdjust="spacingAndGlyphs">Rpm</text>
<clipPath id="fc"><rect x="850" y="715" width="380" height="19"/></clipPath>
<g clip-path="url(#fc)">
<text x="855.1" y="732.6" class="san" font-size="12.3" fill="#000" text-anchor="start" textLength="55.7" lengthAdjust="spacingAndGlyphs">Funware</text>
<text x="915.0" y="732.6" class="san" font-size="12.3" fill="#000" text-anchor="start" textLength="70.1" lengthAdjust="spacingAndGlyphs">Chiptuning</text>
<text x="988.7" y="732.6" class="san" font-size="12.3" fill="#000" text-anchor="start" textLength="31.6" lengthAdjust="spacingAndGlyphs">Łódź</text>
<text x="1023.9" y="732.6" class="san" font-size="12.3" fill="#000" text-anchor="start" textLength="88.2" lengthAdjust="spacingAndGlyphs">Wodorowanie</text>
<text x="1116.6" y="732.6" class="san" font-size="12.3" fill="#000" text-anchor="start" textLength="24.3" lengthAdjust="spacingAndGlyphs">Tel.</text>
<text x="1145.0" y="732.6" class="san" font-size="12.3" fill="#000" text-anchor="start" textLength="24.3" lengthAdjust="spacingAndGlyphs">793</text>
<text x="1173.4" y="732.6" class="san" font-size="12.3" fill="#000" text-anchor="start" textLength="23.6" lengthAdjust="spacingAndGlyphs">005</text>
<text x="1201.0" y="732.6" class="san" font-size="12.3" fill="#000" text-anchor="start" textLength="23.6" lengthAdjust="spacingAndGlyphs">903</text>
</g>
<rect x="1040" y="66" width="242" height="80" fill="#fff"/>
<g id="logo">
<path fill="#231f20" d="M1052,75.7 L1054.5,79.1 L1062.2,80.8 L1069.9,81.7 L1080.1,80.8 L1091.2,79.1 L1099.8,76.5 L1110.9,74 L1125.4,72.3 L1139.1,71 L1165.7,71 L1175.9,72.4 L1188.9,75.6 L1196.3,79.8 L1210.1,82.6 L1224,84.4 L1242.5,85.8 L1251.8,87.7 L1262.9,89.2 L1273,95.1 L1269.4,93.7 L1264.7,91.4 L1262.9,90.4 L1214.8,90.7 L1176.4,90.4 L1184.2,89.2 L1194.4,88.1 L1200,87.2 L1198.1,84 L1190.7,80.3 L1182.4,78 L1175,75 L1168.5,73.8 L1142.5,73.5 L1134,74.8 L1125.4,77.8 L1116.9,79.5 L1110.9,80.4 L1110.9,82.1 L1099.8,82.5 L1091.2,81.7 L1080.1,82.5 L1069.9,82.8 L1062.2,81.7 L1054.5,80 Z"/>
<path fill="none" stroke="#231f20" stroke-width="0.6" d="M1110.9,82.1 L1119,84.5 L1128.8,88.5"/>
<path fill="#8b1a1a" d="M1046,77 L1051.1,80.4 L1054.5,82.9 L1060.5,83.4 L1065.6,85.1 L1091.2,84.8 L1110,85.3 L1116.9,87.6 L1126.3,90.5 L1116.9,89.8 L1106.6,88.5 L1091.2,88.9 L1078.4,90.5 L1055.4,90.6 L1052.8,87.6 L1048.5,83.4 L1046,80.4 Z"/>
<text x="1047" y="121" font-family="Liberation Sans, sans-serif" font-weight="bold" font-style="italic" font-size="36.2" stroke-width="1" fill="#231f20" stroke="#231f20" textLength="94.5" lengthAdjust="spacingAndGlyphs">FUN</text>
<text x="1142.6" y="121" font-family="Liberation Sans, sans-serif" font-weight="bold" font-style="italic" font-size="36.2" stroke-width="1" fill="#8b0a0a" stroke="#8b0a0a" textLength="125" lengthAdjust="spacingAndGlyphs">WARE</text>
<text x="1080.5" y="138.6" font-family="Liberation Sans, sans-serif" font-weight="bold" font-size="19" stroke-width="0.6" textLength="156.5" lengthAdjust="spacingAndGlyphs"><tspan fill="#8b0a0a" stroke="#8b0a0a">CHIP</tspan><tspan fill="#231f20" stroke="#231f20">TUNING</tspan></text>
</g>
<rect x="1046" y="130.8" width="29" height="0.9" fill="#8b0a0a"/><rect x="1243" y="130.8" width="30" height="0.9" fill="#8b0a0a"/>
<use href="#logo" transform="translate(913.53,696.66) scale(0.3077,0.3180)"/>
</svg>
</body></html>
